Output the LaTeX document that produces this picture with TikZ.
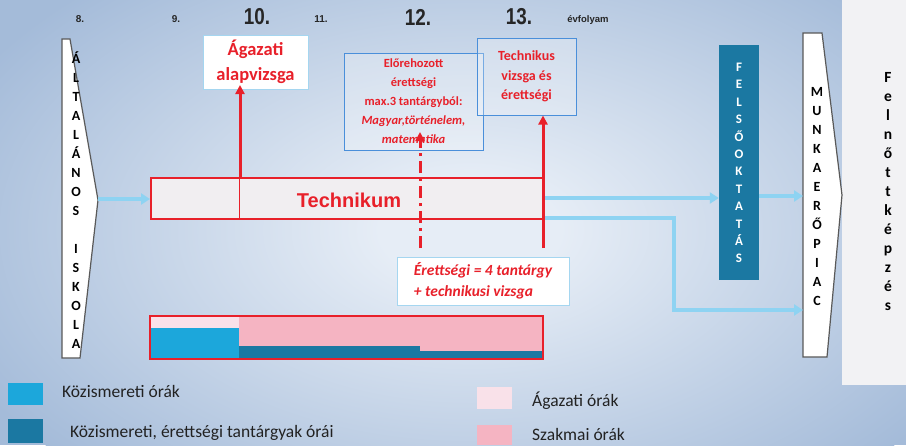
\documentclass[tikz,border=0pt]{standalone}
\usepackage{fontspec}
\setmainfont{Carlito}
\newfontfamily\arialf{Liberation Sans}
\usetikzlibrary{arrows.meta}
\definecolor{bgout}{HTML}{A4BBD9}
\definecolor{bgin}{HTML}{E6EDF6}
\definecolor{myred}{HTML}{E8202A}
\definecolor{arrblue}{HTML}{8ED3F2}
\definecolor{lblue}{HTML}{1CA7DB}
\definecolor{dteal}{HTML}{1B78A2}
\definecolor{pinkA}{HTML}{F9E1E9}
\definecolor{pinkS}{HTML}{F5B4C2}
\definecolor{boxblue}{HTML}{4A8FDA}
\definecolor{boxlight}{HTML}{A5D6F0}
\definecolor{panel}{HTML}{F2F2F4}
\definecolor{techfill}{HTML}{F1EEF1}
\definecolor{txt}{HTML}{222222}
\pgfdeclareradialshading{bgsh}{\pgfpoint{0bp}{0bp}}{color(0bp)=(bgin); color(4bp)=(bgin); color(25bp)=(bgout); color(50bp)=(bgout)}
\begin{document}
\begin{tikzpicture}[x=1pt,y=-1pt,
  yearbig/.style={font=\arialf\bfseries\fontsize{23}{23}\selectfont, text=black!85, inner sep=0},
  yearsmall/.style={font=\arialf\bfseries\fontsize{10}{10}\selectfont, text=black!85, inner sep=0},
  letters/.style={align=center, inner sep=0, font=\bfseries\fontsize{14}{19}\selectfont},
  pent/.style={draw=black!65, fill=white, line width=1.2pt},
  redarr/.style={myred, line width=3pt, -{Triangle[width=9pt,length=9pt]}},
  bluearr/.style={arrblue, line width=4.5pt, line join=miter, -{Triangle[width=11pt,length=9pt]}},
  boxed/.style={inner sep=0, align=center, text=myred},
  legtxt/.style={anchor=west, inner sep=0, text=txt, font=\fontsize{17.5}{20}\selectfont},
  legsq/.style={inner sep=0, minimum width=35pt},
]
\useasboundingbox (0,0) rectangle (906,445);
% background
\fill[bgout] (0,0) rectangle (906,445);
\begin{scope}
  \clip (0,0) rectangle (906,445);
  \shade[shading=bgsh] (470,230) ellipse (560 and 330);
\end{scope}
\fill[panel] (842,0) rectangle (906,385);

% year labels
\node[yearsmall] (y8) at (80,19) {8.};
\node[yearsmall] (y9) at (176,19) {9.};
\node[yearbig] (y10) at (257,17) {\scalebox{0.82}[1]{10.}};
\node[yearsmall] (y11) at (321,19) {11.};
\node[yearbig] (y12) at (418,17) {\scalebox{0.82}[1]{12.}};
\node[yearbig] (y13) at (519,17) {\scalebox{0.82}[1]{13.}};
\node[font=\arialf\bfseries\fontsize{9.5}{10}\selectfont, text=black!85, inner sep=0] (evf) at (588,20) {évfolyam};

% left pentagon
\draw[pent] (62,39) -- (70,39) -- (98,200) -- (80,358) -- (62,358) -- cycle;
\coordinate (ltip) at (98,199);
\node[letters] (altisk) at (76,200) {Á\\L\\T\\A\\L\\Á\\N\\O\\S\\[19pt]I\\S\\K\\O\\L\\A};

% right pentagon
\draw[pent] (803,33) -- (822,33) -- (842,195) -- (827,357) -- (803,357) -- cycle;
\coordinate (rin1) at (803,196);
\coordinate (rin2) at (803,310);
\node[letters] (munka) at (817,197) {M\\U\\N\\K\\A\\E\\R\\Ő\\P\\I\\A\\C};

% Felnottkepzes
\node[align=center, inner sep=0, font=\bfseries\fontsize{15.5}{19}\selectfont] (felnott) at (888,192) {F\\e\\l\\n\\ő\\t\\t\\k\\é\\p\\z\\é\\s};

% Felsooktatas
\node[fill=dteal, minimum width=40pt, minimum height=235pt, inner sep=0] (felso) at (739,162.5) {};
\node[align=center, inner sep=0, text=white, font=\bfseries\fontsize{13}{17.4}\selectfont] (felsotxt) at (739,163) {F\\E\\L\\S\\Ő\\O\\K\\T\\A\\T\\Á\\S};

% bottom bar
\fill[pinkA] (150,316) rectangle (239,328);
\fill[lblue] (150,328) rectangle (239,359);
\fill[pinkS] (239,316) rectangle (543,346);
\fill[dteal] (239,346) rectangle (420,359);
\fill[pinkS] (420,346) rectangle (543,351);
\fill[dteal] (420,351) rectangle (543,359);
\node[draw=myred, line width=1.5pt, minimum width=393pt, minimum height=43pt, inner sep=0] (bar) at (346.5,337.5) {};

% Technikum box
\node[draw=myred, line width=2pt, fill=techfill, minimum width=392pt, minimum height=41pt, inner sep=0] (tech) at (347,198) {};
\draw[myred, line width=0.8pt] (239,177) -- (239,219);
\node[font=\arialf\bfseries\fontsize{20}{20}\selectfont, text=myred, inner sep=0] (techlbl) at (349,200) {Technikum};

% boxes
\node[boxed, draw=boxlight, fill=white, line width=1pt, minimum width=105pt, minimum height=54pt,
  font=\bfseries\fontsize{18.5}{25}\selectfont] (agaz) at (255.5,62) {Ágazati\\alapvizsga};
\node[boxed, draw=boxblue, fill=white, fill opacity=0.25, text opacity=1, line width=1pt, minimum width=139pt, minimum height=97pt,
  font=\bfseries\fontsize{12.5}{19}\selectfont] (elo) at (413.5,101.5) {Előrehozott\\érettségi\\max.3 tantárgyból:\\\textit{Magyar,történelem,}\\\textit{matematika}};
\node[boxed, draw=boxblue, fill=white, fill opacity=0.25, text opacity=1, line width=1pt, minimum width=99pt, minimum height=77pt,
  font=\bfseries\fontsize{14}{19.5}\selectfont] (tk) at (526.5,76.5) {Technikus\\vizsga és\\érettségi};
\node[inner sep=0, align=left, text=myred, draw=boxlight, fill=white, line width=1pt, minimum width=172pt, minimum height=48pt,
  font=\bfseries\itshape\fontsize{15.5}{21}\selectfont] (eret) at (483,281) {Érettségi = 4 tantárgy\\+ technikusi vizsga};

% red arrows
\coordinate (agtip) at (240,85);
\draw[redarr] (tech.north -| agtip) -- (agtip);
\coordinate (rbot) at (543,248);
\draw[redarr] (rbot) -- (rbot |- tk.south);
\coordinate (dbot) at (420,248);
\coordinate (dtip) at (420,132);
\draw[myred, line width=3pt, dash pattern=on 12pt off 5pt on 3pt off 5pt, -{Triangle[width=9pt,length=9pt]}] (dbot) -- (dtip);

% blue arrows
\draw[bluearr] (ltip) -- (ltip -| tech.west);
\coordinate (o1) at (545,198);
\draw[bluearr] (o1) -- (o1 -| felso.west);
\draw[bluearr] (felso.east |- rin1) -- (rin1);
\coordinate (o2) at (545,218);
\coordinate (bend) at (674,218);
\draw[bluearr] (o2) -- (bend) -- (bend |- rin2) -- (rin2);

% legend
\node[legsq, fill=lblue, minimum height=22pt] (lg1) at (25.5,394) {};
\node[legtxt] (lt1) at (62,391) {Közismereti órák};
\node[legsq, fill=dteal, minimum height=24pt] (lg2) at (25.5,431) {};
\node[legtxt] (lt2) at (70,433) {Közismereti, érettségi tantárgyak órái};
\node[legsq, fill=pinkA, minimum height=22pt] (lg3) at (494.5,398) {};
\node[legtxt] (lt3) at (532,401) {Ágazati órák};
\node[legsq, fill=pinkS, minimum height=20pt] (lg4) at (494.5,435) {};
\node[legtxt] (lt4) at (532,434) {Szakmai órák};
\end{tikzpicture}
\end{document}
